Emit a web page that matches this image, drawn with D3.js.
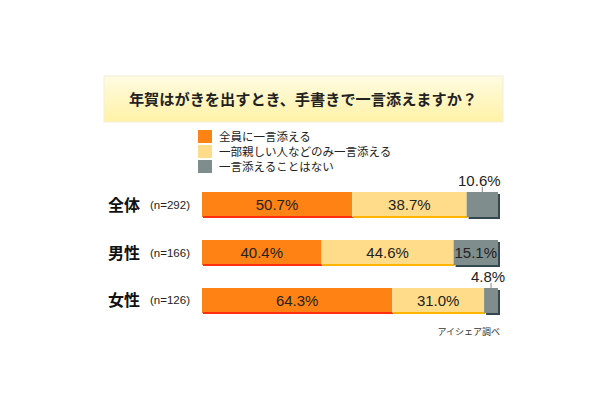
<!DOCTYPE html>
<html><head><meta charset="utf-8">
<script src="https://cdn.jsdelivr.net/npm/d3@7"></script>
<style>body{margin:0;background:#fff;} svg{display:block;}</style>
</head><body>
<script>
const title = "年賀はがきを出すとき、手書きで一言添えますか？";
const categories = ["全体", "男性", "女性"];
const sampleSizes = ["(n=292)", "(n=166)", "(n=126)"];
const seriesNames = ["全員に一言添える", "一部親しい人などのみ一言添える", "一言添えることはない"];
const allEach = [50.7, 40.4, 64.3];
const someOnly = [38.7, 44.6, 31.0];
const never = [10.6, 15.1, 4.8];
const source = "アイシェア調べ";

const W = 610, H = 400;
const font = "'Noto Sans CJK JP', 'Noto Sans', sans-serif";
const numFont = "'Liberation Sans', Arial, sans-serif";
const svg = d3.select("body").append("svg").attr("width", W).attr("height", H);

const defs = svg.append("defs");
const g = defs.append("linearGradient").attr("id","tg").attr("x1",0).attr("y1",0).attr("x2",0).attr("y2",1);
g.append("stop").attr("offset","0%").attr("stop-color","#fffbe2");
g.append("stop").attr("offset","100%").attr("stop-color","#fff2a6");

svg.append("rect").attr("x",104).attr("y",76).attr("width",399).attr("height",46)
  .attr("fill","url(#tg)").attr("stroke","#f3efd6").attr("stroke-width",1);
svg.append("text").attr("x",303).attr("y",104.5).attr("text-anchor","middle")
  .attr("font-family",font).attr("font-size",15.2).attr("font-weight","bold").attr("fill","#222")
  .text(title);

const colors = ["#fe8314", "#ffdc8a", "#7f8d8c"];
const edge = ["#ff3010", "#ffb400", null];

// legend
const leg = svg.append("g");
seriesNames.forEach((n,i)=>{
  leg.append("rect").attr("x",198).attr("y",130+i*15).attr("width",14).attr("height",13).attr("fill",colors[i]);
  leg.append("text").attr("x",219).attr("y",141+i*15).attr("font-family",font).attr("font-size",11.5).attr("fill","#222").text(n);
});

const rows = categories.map((c,i)=>({cat:c, n:sampleSizes[i], vals:[allEach[i], someOnly[i], never[i]]}));
const x = d3.scaleLinear().domain([0,100]).range([202,498]);
const y = d3.scaleBand().domain(categories).range([192,313]).paddingInner(0.479).paddingOuter(0);
const bh = y.bandwidth();

rows.forEach((r,ri)=>{
  const y0 = y(r.cat);
  const cy = y0 + bh/2;
  svg.append("text").attr("x",108).attr("y",cy+6).attr("font-family",font).attr("font-size",16)
    .attr("font-weight","bold").attr("fill","#111").text(r.cat);
  svg.append("text").attr("x",150).attr("y",cy+4).attr("font-family",numFont).attr("font-size",11.5)
    .attr("fill","#222").text(r.n);
  let acc = 0;
  const segs = r.vals.map(v=>{const s={x0:acc,x1:acc+v,v}; acc+=v; return s;});
  const last = segs[2];
  svg.append("rect").attr("x",x(last.x0)+2).attr("y",y0+2).attr("width",x(Math.min(last.x1,100))-x(last.x0)).attr("height",bh)
    .attr("fill","#34474f");
  segs.forEach((s,i)=>{
    const x1 = x(Math.min(s.x1,100));
    svg.append("rect").attr("x",x(s.x0)).attr("y",y0).attr("width",x1-x(s.x0)).attr("height",bh).attr("fill",colors[i]);
    if(edge[i]) svg.append("rect").attr("x",x(s.x0)+1).attr("y",y0+bh-1).attr("width",x1-x(s.x0)).attr("height",2).attr("fill",edge[i]);
  });
  segs.forEach((s,i)=>{
    const label = s.v.toFixed(1)+"%";
    const x1 = x(Math.min(s.x1,100));
    const w = x1-x(s.x0);
    const mx = (x(s.x0)+x1)/2;
    if(w > 38){
      svg.append("text").attr("x",mx).attr("y",cy+5.5).attr("text-anchor","middle")
        .attr("font-family",numFont).attr("font-size",15).attr("fill","#222").text(label);
    } else {
      svg.append("line").attr("x1",mx).attr("x2",mx).attr("y1",y0-5).attr("y2",y0).attr("stroke","#888").attr("stroke-width",1);
      svg.append("text").attr("x",mx-3).attr("y",y0-6).attr("text-anchor","middle")
        .attr("font-family",numFont).attr("font-size",15).attr("fill","#222").text(label);
    }
  });
});

svg.append("text").attr("x",500).attr("y",335).attr("text-anchor","end").attr("font-family",font)
  .attr("font-size",9).attr("fill","#333").text(source);
</script>
</body></html>
